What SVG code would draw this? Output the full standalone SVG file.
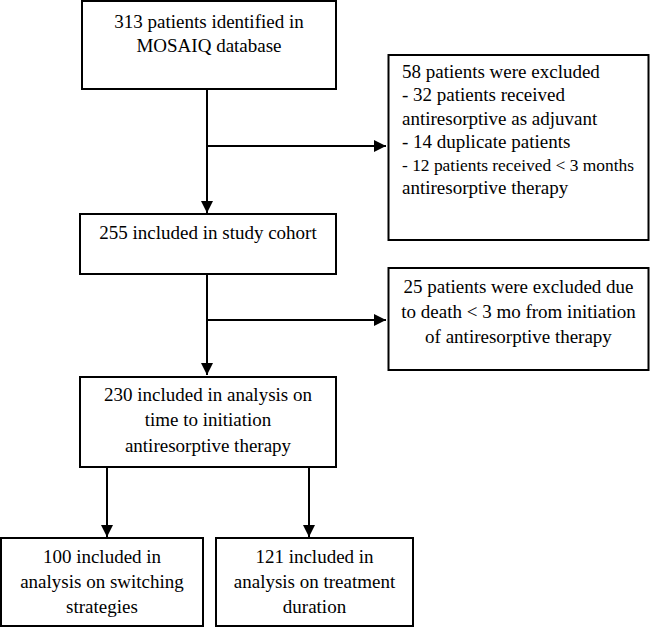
<svg xmlns="http://www.w3.org/2000/svg" width="651" height="627" viewBox="0 0 651 627">
<defs>
<style>
.box{fill:#fff;stroke:#000;stroke-width:2}
.t{font-family:'Liberation Serif','Times New Roman',serif;font-size:19px;fill:#000}
.c{text-anchor:middle}
.ln{fill:none;stroke:#000;stroke-width:2}
</style>
<marker id="ah" markerWidth="12" markerHeight="12" viewBox="0 0 12 12" refX="12" refY="6" orient="auto" markerUnits="userSpaceOnUse">
<path d="M0,0 L12,6 L0,12 Z" fill="#000"/>
</marker>
</defs>
<rect width="651" height="627" fill="#fff"/>
<g id="connectors">
<line class="ln" x1="207" y1="89" x2="207" y2="213" marker-end="url(#ah)"/>
<line class="ln" x1="207" y1="146" x2="386" y2="146" marker-end="url(#ah)"/>
<line class="ln" x1="207" y1="274" x2="207" y2="375" marker-end="url(#ah)"/>
<line class="ln" x1="207" y1="320" x2="386" y2="320" marker-end="url(#ah)"/>
<line class="ln" x1="107" y1="467" x2="107" y2="537" marker-end="url(#ah)"/>
<line class="ln" x1="309" y1="467" x2="309" y2="537" marker-end="url(#ah)"/>
</g>
<g id="n1">
<rect class="box" x="82" y="1" width="254" height="88"/>
<text class="t c" x="209" y="28">313 patients identified in</text>
<text class="t c" x="209" y="52">MOSAIQ database</text>
</g>
<g id="n2">
<rect class="box" x="388.5" y="55" width="260" height="185"/>
<text class="t" x="402" y="78">58 patients were excluded</text>
<text class="t" x="402" y="101">- 32 patients received</text>
<text class="t" x="402" y="124.5">antiresorptive as adjuvant</text>
<text class="t" x="402" y="148">- 14 duplicate patients</text>
<text class="t" x="402" y="171" style="font-size:17.5px" textLength="232" lengthAdjust="spacingAndGlyphs">- 12 patients received &lt; 3 months</text>
<text class="t" x="402" y="194">antiresorptive therapy</text>
</g>
<g id="n3">
<rect class="box" x="80" y="214" width="256" height="60"/>
<text class="t c" x="208" y="239">255 included in study cohort</text>
</g>
<g id="n4">
<rect class="box" x="388.5" y="268" width="260" height="102"/>
<text class="t c" x="518.5" y="293">25 patients were excluded due</text>
<text class="t c" x="518.5" y="318">to death &lt; 3 mo from initiation</text>
<text class="t c" x="518.5" y="343">of antiresorptive therapy</text>
</g>
<g id="n5">
<rect class="box" x="80" y="377" width="256" height="90"/>
<text class="t c" x="208" y="401">230 included in analysis on</text>
<text class="t c" x="208" y="426">time to initiation</text>
<text class="t c" x="208" y="452">antiresorptive therapy</text>
</g>
<g id="n6">
<rect class="box" x="1" y="538" width="202" height="88"/>
<text class="t c" x="102" y="563">100 included in</text>
<text class="t c" x="102" y="588">analysis on switching</text>
<text class="t c" x="102" y="613">strategies</text>
</g>
<g id="n7">
<rect class="box" x="216" y="538" width="197" height="88"/>
<text class="t c" x="314.5" y="563">121 included in</text>
<text class="t c" x="314.5" y="588">analysis on treatment</text>
<text class="t c" x="314.5" y="613">duration</text>
</g>
</svg>
